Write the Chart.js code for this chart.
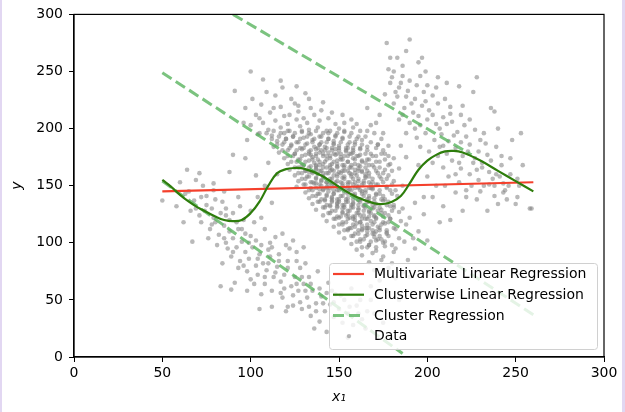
<!DOCTYPE html>
<html>
<head>
<meta charset="utf-8">
<script src="https://cdn.jsdelivr.net/npm/chart.js@4.4.1/dist/chart.umd.min.js"></script>
<style>
  html, body { margin: 0; padding: 0; background: #fff; }
  #wrap { position: relative; width: 625px; height: 412px; }
  .edge { position: absolute; top: 0; height: 412px; background: #e2d7f2; }
</style>
</head>
<body>
<div id="wrap">
  <canvas id="chart" width="625" height="412"></canvas>
  <div class="edge" style="left:0;width:2px"></div>
  <div class="edge" style="right:0;width:3px"></div>
</div>
<script>
// Axis ticks
const xTicks = [0, 50, 100, 150, 200, 250, 300];
const yTicks = [0, 50, 100, 150, 200, 250, 300];

// Multivariate linear regression (straight line)
const mlrX = [50, 260];
const mlrY = [145, 153];

// Clusterwise linear regression (smooth curve)
const clrX = [50, 55, 60, 65, 70, 75, 80, 85, 90, 95, 100, 105, 110, 115, 120, 125, 130, 140, 150, 160, 170, 175, 180, 185, 190, 195, 200, 205, 210, 215, 220, 230, 240, 250, 260];
const clrY = [155, 149, 142, 136, 131, 127, 123, 120, 119, 120, 126, 136, 150, 161, 164.5, 165.5, 165, 159, 149, 140, 134.5, 134, 136, 141, 152, 164, 172, 177, 180, 180.5, 179, 172, 163, 154, 145];

// Cluster regression lines (dashed)
const clusterTopX = [90, 225];
const clusterTopY = [300, 177];
const clusterMidX = [50, 260];
const clusterMidY = [249, 37];
const clusterLowX = [50, 186];
const clusterLowY = [154, 3];

// Scatter data
const coreCloud = [
  [114,229],[123,226],[131,231],
  [106,221],[117,219],[125,222],[134,218],[141,223],
  [103,212],[111,214],[119,211],[127,215],[136,212],[146,214],
  [107,205],[114,207],[121,204],[126,208],[132,205],[139,207],[148,204],[157,208],
  [110,199],[117,201],[122,198],[128,202],[133,199],[138,201],[143,198],[150,200],[158,201],[166,198],
  [112,194],[119,196],[124,193],[129,197],[134,195],[139,193],[144,196],[148,194],[153,197],[161,193],[170,196],
  [115,189],[120,191],[126,188],[130,192],[135,190],[140,188],[144,191],[147,189],[152,192],[156,188],[163,190],[174,191],
  [113,184],[118,186],[123,185],[128,183],[132,187],[136,184],[139,186],[143,183],[147,187],[150,185],[155,183],[159,186],[166,184],[178,185],
  [116,179],[121,181],[125,178],[129,182],[133,180],[137,178],[140,181],[144,179],[148,182],[151,178],[154,181],[158,179],[162,182],[168,178],[175,181],
  [119,174],[124,176],[128,173],[131,177],[135,175],[138,173],[141,176],[145,174],[148,177],[152,173],[155,176],[158,174],[162,177],[166,173],[171,176],[181,174],
  [121,169],[126,171],[130,168],[133,172],[136,170],[139,168],[142,171],[146,169],[149,172],[152,168],[155,171],[159,169],[163,172],[167,168],[173,171],[179,169],
  [122,164],[127,166],[131,163],[134,167],[137,165],[140,163],[143,166],[146,164],[149,167],[152,163],[156,166],[159,164],[162,167],[166,163],[170,166],[176,164],[184,165],
  [125,159],[129,161],[132,158],[135,162],[138,160],[141,158],[144,161],[147,159],[150,162],[153,158],[156,161],[160,159],[163,162],[167,158],[172,161],[178,159],
  [127,154],[131,156],[134,153],[137,157],[140,155],[143,153],[146,156],[149,154],[152,157],[155,153],[158,156],[161,154],[165,157],[169,153],[174,156],[181,154],
  [126,149],[130,151],[134,148],[137,152],[140,150],[143,148],[146,151],[149,149],[152,152],[155,148],[158,151],[161,149],[164,152],[168,148],[172,151],[177,149],[186,150],
  [131,144],[135,146],[138,143],[141,147],[144,145],[147,143],[150,146],[153,144],[156,147],[159,143],[162,146],[165,144],[169,147],[173,143],[179,146],
  [133,139],[137,141],[140,138],[143,142],[146,140],[149,138],[152,141],[155,139],[158,142],[161,138],[164,141],[167,139],[171,142],[176,138],[183,141],
  [135,134],[139,136],[143,133],[146,137],[149,135],[152,133],[155,136],[158,134],[161,137],[164,133],[167,136],[171,134],[175,137],[181,133],
  [137,129],[142,131],[146,128],[149,132],[152,130],[155,128],[158,131],[161,129],[164,132],[167,128],[170,131],[174,129],[179,132],[186,130],
  [141,124],[145,126],[149,123],[152,127],[155,125],[158,123],[161,126],[164,124],[167,127],[170,123],[174,126],[178,124],[184,127],
  [143,119],[148,121],[152,118],[156,122],[159,120],[162,118],[165,121],[168,119],[171,122],[175,118],[179,121],[185,119],
  [147,114],[152,116],[156,113],[160,117],[163,115],[166,113],[169,116],[172,114],[176,117],[181,113],[188,116],
  [150,109],[155,111],[159,108],[163,112],[166,110],[170,108],[173,111],[177,109],[182,112],
  [153,104],[158,106],[162,103],[166,107],[170,105],[174,103],[178,106],[184,104],
  [157,99],[162,101],[167,98],[171,102],[175,100],[180,98],[187,101],
  [160,94],[166,96],[171,93],[176,97],[182,95],
  [163,89],[169,91],[175,88],[181,92],
  [167,83],[174,85],[180,82],
  [170,76],[178,78],[186,74],
  [173,67],[182,69],[177,58],[168,62],[189,85],[192,104],[190,122],[193,135]
];

const coreDense = [
  [137,182],[142,184],[146,181],[150,183],[154,180],[158,183],
  [134,177],[139,179],[143,176],[147,178],[151,175],[156,178],[160,176],
  [137,167],[141,169],[145,166],[149,169],[153,166],[157,168],[161,165],[165,170],
  [133,162],[137,164],[141,161],[145,163],[149,160],[153,163],[157,160],[161,163],[165,160],
  [136,152],[140,154],[144,151],[148,153],[152,150],[156,153],[160,150],[164,154],[168,151],
  [139,147],[143,149],[147,146],[151,148],[155,145],[159,148],[163,145],[167,148],
  [142,137],[146,139],[150,136],[154,138],[158,135],[162,138],[166,136],[170,139],
  [145,132],[149,134],[153,131],[157,133],[161,130],[165,133],[169,130],
  [150,122],[154,124],[158,121],[162,124],[166,121],[170,124],
  [155,112],[159,114],[163,111],[167,113],[171,110]
];

const coreFill = [
  [109,196],[113,198],[117,196],[121,198],[125,196],[129,198],[133,196],[137,198],[141,196],[145,198],[149,196],[153,198],[157,196],[162,198],
  [112,191],[116,193],[120,191],[124,193],[128,191],[132,193],[136,191],[140,193],[144,191],[148,193],[152,191],[156,193],[160,191],[165,193],
  [115,186],[119,188],[123,186],[127,188],[131,186],[135,188],[139,186],[143,188],[147,186],[151,188],[155,186],[159,188],[163,186],[168,188],[172,186],
  [118,181],[122,183],[126,181],[130,183],[134,181],[138,183],[142,181],[146,183],[150,181],[154,183],[158,181],[162,183],[166,181],[171,183],
  [121,176],[125,178],[129,176],[133,178],[137,176],[141,178],[145,176],[149,178],[153,176],[157,178],[161,176],[165,178],[169,176],[174,178],[178,176],
  [123,171],[127,173],[131,171],[135,173],[139,171],[143,173],[147,171],[151,173],[155,171],[159,173],[163,171],[167,173],[171,171],[176,173],
  [125,166],[129,168],[133,166],[137,168],[141,166],[145,168],[149,166],[153,168],[157,166],[161,168],[165,166],[169,168],[173,166],[178,168],
  [127,161],[131,163],[135,161],[139,163],[143,161],[147,163],[151,161],[155,163],[159,161],[163,163],[167,161],[171,163],[175,161],[180,163],
  [129,156],[133,158],[137,156],[141,158],[145,156],[149,158],[153,156],[157,158],[161,156],[165,158],[169,156],[173,158],[177,156],
  [131,151],[135,153],[139,151],[143,153],[147,151],[151,153],[155,151],[159,153],[163,151],[167,153],[171,151],[175,153],[180,151],
  [133,146],[137,148],[141,146],[145,148],[149,146],[153,148],[157,146],[161,148],[165,146],[169,148],[173,146],[177,148],[182,146],
  [135,141],[139,143],[143,141],[147,143],[151,141],[155,143],[159,141],[163,143],[167,141],[171,143],[175,141],[180,143],
  [138,136],[142,138],[146,136],[150,138],[154,136],[158,138],[162,136],[166,138],[170,136],[174,138],[178,136],
  [141,131],[145,133],[149,131],[153,133],[157,131],[161,133],[165,131],[169,133],[173,131],[177,133],[181,131],
  [144,126],[148,128],[152,126],[156,128],[160,126],[164,128],[168,126],[172,128],[176,126],[180,128],
  [147,121],[151,123],[155,121],[159,123],[163,121],[167,123],[171,121],[175,123],[179,121],
  [150,116],[154,118],[158,116],[162,118],[166,116],[170,118],[174,116],[178,118],
  [153,111],[157,113],[161,111],[165,113],[169,111],[173,113],[177,111],
  [157,106],[161,108],[165,106],[169,108],[173,106],[177,108],
  [160,101],[164,103],[168,101],[172,103],[176,101],
  [163,96],[167,98],[171,96],
  [101,226],[109,232],[118,236],[127,220],[133,226],[140,216],[105,209],[113,218],[122,212],[130,209],
  [144,209],[152,212],[100,203],[105,196],[153,205],[160,204],[168,203],[172,186],[176,178]
];

const upperCloud = [
  [177,275],[190,278],[183,262],[181,250],[186,246],[179,240],[184,236],[190,242],[194,238],[176,230],
  [188,228],[193,226],[198,232],[203,229],[181,222],[187,218],[192,214],[197,220],[201,216],[206,222],
  [210,226],[213,219],[184,208],[190,205],[196,203],[200,208],[205,204],[209,210],[214,206],[219,212],
  [224,208],[188,196],[194,192],[199,196],[204,190],[208,195],[212,189],[217,197],[222,193],[227,199],
  [232,196],[196,184],[201,180],[207,184],[211,178],[216,183],[220,176],[224,186],[229,180],[234,177],
  [239,184],[203,170],[209,166],[214,172],[219,165],[226,170],[231,166],[236,172],[242,168],[247,174],
  [212,158],[218,153],[224,160],[229,155],[235,151],[241,158],[246,150],[251,156],[216,144],[222,140],
  [230,145],[238,141],[244,146],[250,134],[234,128],[228,138],[171,205],[175,196],[166,218],[173,212],
  [236,218],[240,200],[226,232],[218,237],[206,245],[211,240],[199,250],[195,258],[228,245],[248,190],
  [253,196],[238,215],[258,130],[251,140],[243,144],[237,156],[185,185],[188,175],[195,168],[200,158],
  [205,150],[198,140],[209,132],[220,128],[213,120],
  [180,245],[185,240],[189,233],[183,228],[191,222],[195,211],[199,224],[203,212],[207,200],[211,204],
  [215,194],[219,188],[223,180],[227,174],[231,170],[235,162],[239,160],[243,152],[247,160],[233,187],
  [221,203],[213,213],[205,236],[196,246],[186,255],[179,262],[188,268],[200,238],[209,185],[216,160],
  [228,164],[238,150],[245,138],[252,150],[225,150],[218,170],[206,176],[193,200],[186,212],[182,232],
  [178,252],[197,262],[220,220],[230,190],[242,176],[254,168],[210,150],[222,146],[232,150],[240,134]
];

const lowerCloud = [
  [63,143],[68,137],[66,128],[72,140],[75,133],[71,124],[78,130],[80,118],[77,112],[83,126],
  [85,115],[82,107],[88,110],[86,100],[90,104],[92,96],[89,88],[95,101],[97,92],[94,84],
  [99,86],[101,96],[103,80],[98,75],[105,90],[107,82],[104,72],[109,76],[111,88],[113,70],
  [108,64],[115,79],[117,66],[112,58],[119,72],[121,84],[123,62],[118,52],[125,70],[127,58],
  [124,45],[130,64],[132,52],[129,42],[135,58],[137,47],[134,36],[140,53],[142,40],[139,31],
  [145,46],[147,35],[150,42],[152,30],[148,55],[155,38],[158,28],[160,45],[163,33],[157,60],
  [165,25],[170,38],[168,50],[175,30],[144,65],[138,75],[131,82],[126,92],[120,98],[114,105],
  [108,112],[102,118],[96,120],[90,126],[84,136],[79,146],[73,150],[69,155],[87,95],[93,78],
  [100,68],[106,55],[110,94],[116,90],[122,95],[128,78],[133,70],[100,106],[95,112],[88,120],
  [81,98],[76,104],[84,82],[91,65],[98,58],[112,44],[120,40],[143,22],[155,17],[136,25],
  [62,118],[67,101],[58,132],[83,62],[89,59],[105,42],[121,44],
  [74,128],[79,122],[86,124],[92,118],[97,108],[103,102],[106,98],[112,96],[116,84],[121,78],
  [126,84],[129,70],[134,64],[139,60],[143,56],[147,48],[153,50],[156,44],[161,38],[166,40],
  [80,138],[86,130],[93,112],[99,100],[104,86],[110,82],[114,74],[119,60],[124,54],[128,48],
  [133,44],[137,40],[141,47],[96,80],[90,92],[85,104],[78,116],[72,118],[69,130],[65,145],
  [102,64],[108,70],[117,56],[126,64],[131,58],[146,58],[151,54],[162,50],[111,100],[118,108],
  [106,122],[100,128],[94,132],[124,102],[130,96]
];

const strayPoints = [
  [50,137],[64,164],[60,153],[71,161],[79,152],[88,162],[97,174],[90,177],[103,159],[100,250],
  [107,243],[117,242],[91,233],[126,237],[97,218],[85,145],[75,141],[93,140],[108,150],[112,135],
  [104,140],[115,160],[110,170],[98,190],[104,195],[96,205],[195,110],[198,125],[203,140],[207,118],
  [193,95],[200,102],[184,50],[190,70],[259,130]
];

function toPoints(xs, ys) {
  return xs.map((x, i) => ({ x: x, y: ys[i] }));
}

const allPoints = coreCloud.concat(coreDense, coreFill, upperCloud, lowerCloud, strayPoints)
  .map(p => ({ x: p[0], y: p[1] }));

const FONT = 'DejaVu Sans';
const redColor = '#f4402c';
const greenColor = '#2e7d0c';
const dashColor = 'rgba(90,180,95,0.8)';
const dotColor = 'rgba(128,128,128,0.55)';

// box around the plot area
const frame = {
  id: 'frame',
  afterDatasetsDraw(chart) {
    const a = chart.chartArea;
    const c = chart.ctx;
    c.save();
    c.strokeStyle = '#000';
    c.lineWidth = 1.2;
    c.strokeRect(a.left, a.top, a.right - a.left, a.bottom - a.top);
    c.restore();
  }
};

// legend drawn inside the plot, lower right
const boxLegend = {
  id: 'boxLegend',
  afterDraw(chart) {
    const c = chart.ctx;
    const ds = chart.data.datasets;
    const items = [ds[0], ds[1], ds[2], ds[5]];
    const x0 = 329, y0 = 263, w = 268, h = 86;
    c.save();
    c.fillStyle = 'rgba(255,255,255,0.8)';
    c.strokeStyle = '#d0d0d0';
    c.lineWidth = 1;
    c.beginPath();
    c.roundRect(x0 + 0.5, y0 + 0.5, w, h, 3);
    c.fill();
    c.stroke();
    c.font = '14px "' + FONT + '"';
    c.textBaseline = 'middle';
    items.forEach((d, i) => {
      const y = y0 + 11 + i * 20.7;
      if (d.showLine) {
        c.strokeStyle = d.borderColor;
        c.lineWidth = d.borderWidth;
        c.setLineDash(d.borderDash || []);
        c.beginPath();
        c.moveTo(x0 + 4, y);
        c.lineTo(x0 + 35, y);
        c.stroke();
        c.setLineDash([]);
      } else {
        c.fillStyle = d.backgroundColor;
        c.beginPath();
        c.arc(x0 + 20, y, 2.2, 0, Math.PI * 2);
        c.fill();
      }
      c.fillStyle = '#000';
      c.fillText(d.label, x0 + 45, y + 0.5);
    });
    c.restore();
  }
};

const ctx = document.getElementById('chart').getContext('2d');
new Chart(ctx, {
  type: 'scatter',
  data: {
    datasets: [
      { label: 'Multivariate Linear Regression', data: toPoints(mlrX, mlrY), showLine: true,
        borderColor: redColor, borderWidth: 2.2, pointRadius: 0, order: 1 },
      { label: 'Clusterwise Linear Regression', data: toPoints(clrX, clrY), showLine: true,
        borderColor: greenColor, borderWidth: 2.2, pointRadius: 0, tension: 0.4, order: 0 },
      { label: 'Cluster Regression', data: toPoints(clusterTopX, clusterTopY), showLine: true,
        borderColor: dashColor, borderWidth: 3, borderDash: [11, 5], pointRadius: 0, order: 2 },
      { label: 'Cluster Regression', data: toPoints(clusterMidX, clusterMidY), showLine: true,
        borderColor: dashColor, borderWidth: 3, borderDash: [11, 5], pointRadius: 0, order: 2 },
      { label: 'Cluster Regression', data: toPoints(clusterLowX, clusterLowY), showLine: true,
        borderColor: dashColor, borderWidth: 3, borderDash: [11, 5], pointRadius: 0, order: 2 },
      { label: 'Data', data: allPoints, pointRadius: 2.3, backgroundColor: dotColor,
        borderWidth: 0, order: 3 }
    ]
  },
  options: {
    responsive: false,
    animation: false,
    devicePixelRatio: 1,
    events: [],
    layout: { padding: { left: 0, top: 13, right: 21, bottom: 0 } },
    plugins: { legend: { display: false }, tooltip: { enabled: false } },
    scales: {
      x: {
        type: 'linear', min: 0, max: 300,
        afterBuildTicks: s => { s.ticks = xTicks.map(v => ({ value: v })); },
        afterFit: s => { s.height = 55; },
        grid: { display: true, drawOnChartArea: false, drawTicks: true, tickLength: 5, color: '#000' },
        border: { display: true, color: '#000', width: 1.2 },
        ticks: { color: '#000', padding: 3, font: { family: FONT, size: 14 } },
        title: { display: true, text: 'x₁', color: '#000', padding: { top: 0, bottom: 6 },
          font: { family: FONT, size: 14, style: 'italic' } }
      },
      y: {
        type: 'linear', min: 0, max: 300,
        afterBuildTicks: s => { s.ticks = yTicks.map(v => ({ value: v })); },
        afterFit: s => { s.width = 74; },
        grid: { display: true, drawOnChartArea: false, drawTicks: true, tickLength: 5, color: '#000' },
        border: { display: true, color: '#000', width: 1.2 },
        ticks: { color: '#000', padding: 6, font: { family: FONT, size: 14 } },
        title: { display: true, text: 'y', color: '#000', padding: { top: 9, bottom: 0 },
          font: { family: FONT, size: 14, style: 'italic' } }
      }
    }
  },
  plugins: [frame, boxLegend]
});
</script>
</body>
</html>
